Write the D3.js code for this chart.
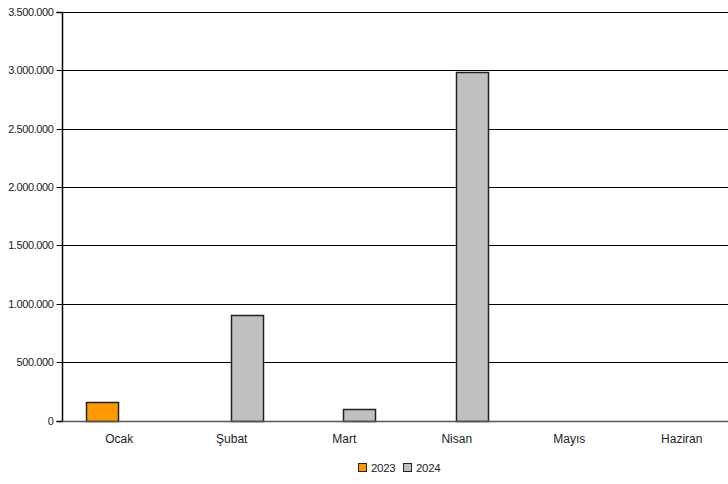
<!DOCTYPE html>
<html><head><meta charset="utf-8">
<script src="https://cdn.jsdelivr.net/npm/d3@7"></script>
<style>body{margin:0;background:#fff;overflow:hidden}svg{display:block;font-family:"Liberation Sans",Arial,sans-serif}</style>
</head><body><svg id="c" width="728" height="484"></svg>
<script>
const categories = ["Ocak","Şubat","Mart","Nisan","Mayıs","Haziran"];
const seriesNames = ["2023","2024"];
const values2023 = [155000, 0, 0, 0, 0, 0];
const values2024 = [0, 905000, 95000, 2985000, 0, 0];
const yTicks = [0,500000,1000000,1500000,2000000,2500000,3000000,3500000];
const colors = ["#ff9900","#c0c0c0"];

const svg = d3.select("#c");
const m = {l:62, t:11.7, b:63.5};
const W = 728, H = 484;
const plotRight = 737; // plot area extends past the visible right edge
const x = d3.scaleBand().domain(categories).range([m.l, plotRight]);
const xs = d3.scaleBand().domain(seriesNames).range([24, 88]);
const y = d3.scaleLinear().domain([0,3500000]).range([H-m.b, m.t]);
const fmt = v => d3.format(",")(v).replace(/,/g,".");

// gridlines
svg.append("g").selectAll("line").data(yTicks.slice(1)).join("line")
  .attr("x1", m.l).attr("x2", W).attr("y1", d=>Math.round(y(d))+0.5).attr("y2", d=>Math.round(y(d))+0.5)
  .attr("stroke","#000").attr("stroke-width",1);

// y axis
const ya = svg.append("g").attr("transform",`translate(${m.l+0.5},0)`)
  .call(d3.axisLeft(y).tickValues(yTicks).tickFormat(fmt).tickSize(6).tickPadding(3));
ya.select(".domain").attr("stroke","#000").attr("d",`M-6,${Math.round(y(3500000))+0.5}H0V${Math.round(y(0))+0.5}H-6`).attr("stroke-width",1.5);
ya.selectAll(".tick line").attr("stroke","#000");
ya.selectAll(".tick").attr("transform", d=>`translate(0,${Math.round(y(d))+0.5})`);
ya.selectAll("text").attr("font-size",11).attr("fill","#222").attr("font-family","Liberation Sans, Arial, sans-serif").attr("letter-spacing","-0.4");

// bars
const data = [];
categories.forEach((c,i)=>{ data.push({c, s:"2023", v:values2023[i]}); data.push({c, s:"2024", v:values2024[i]}); });
svg.append("g").selectAll("rect").data(data.filter(d=>d.v>0)).join("rect")
  .attr("x", d=>Math.round(x(d.c)+xs(d.s))+0.5)
  .attr("width", Math.round(xs.bandwidth()))
  .attr("y", d=>Math.round(y(d.v))+0.5)
  .attr("height", d=>Math.round(y(0))-Math.round(y(d.v)))
  .attr("fill", d=>colors[seriesNames.indexOf(d.s)])
  .attr("stroke","#222").attr("stroke-width",1.5);

// x axis baseline
svg.append("line").attr("x1",m.l).attr("x2",W).attr("y1",Math.round(y(0))+0.5).attr("y2",Math.round(y(0))+0.5)
  .attr("stroke","#555").attr("stroke-width",1.5);

// x labels
svg.append("g").selectAll("text").data(categories).join("text")
  .attr("x", d=>x(d)+x.bandwidth()/2+1).attr("y", 443)
  .attr("text-anchor","middle").attr("font-size",12).attr("fill","#222").text(d=>d);

// legend
const lg = svg.append("g").attr("transform","translate(358,463)");
const items = [{n:"2023",c:colors[0],x:0},{n:"2024",c:colors[1],x:45}];
items.forEach(it=>{
  lg.append("rect").attr("x",it.x+0.5).attr("y",0.5).attr("width",8).attr("height",8).attr("fill",it.c).attr("stroke","#222");
  lg.append("text").attr("x",it.x+13).attr("y",9).attr("font-size",11.5).attr("fill","#222").attr("letter-spacing","-0.3").text(it.n);
});
</script></body></html>
